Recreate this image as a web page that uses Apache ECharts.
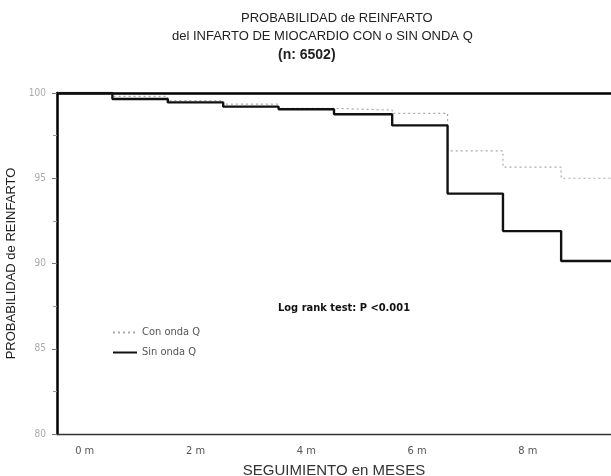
<!DOCTYPE html>
<html>
<head>
<meta charset="utf-8">
<script src="https://cdn.jsdelivr.net/npm/echarts@6/dist/echarts.min.js"></script>
<style>
  html, body { margin: 0; padding: 0; background: #fff; }
  #chart { width: 611px; height: 476px; }
</style>
</head>
<body>
<div id="chart"></div>
<script>
// meses de seguimiento en que cambia cada curva (primer punto = borde izquierdo del eje)
var meses = [-0.5, 0.5, 1.5, 2.5, 3.5, 4.5, 5.55, 6.55, 7.55, 8.6, 9.5];
var conOndaQ = [100, 99.8, 99.55, 99.35, 99.1, 99.0, 98.8, 96.6, 95.65, 95.0, 95.0];
var sinOndaQ = [100, 99.65, 99.45, 99.2, 99.05, 98.75, 98.1, 94.1, 91.9, 90.15, 90.15];
var etiquetasMes = [0, 2, 4, 6, 8];
var etiquetasY = [80, 85, 90, 95, 100];

var narrow = "'Liberation Sans Narrow', 'DejaVu Sans Condensed', sans-serif";
var sans = "'Liberation Sans', Arial, sans-serif";

function pares(xs, ys) {
  return xs.map(function (x, i) { return [x, ys[i]]; });
}

var chart = echarts.init(document.getElementById('chart'));
var option = {
  animation: false,
  title: [
    {
      text: 'PROBABILIDAD de REINFARTO',
      left: 236, top: 7,
      textStyle: { fontFamily: sans, fontSize: 13, fontWeight: 'normal', color: '#222' }
    },
    {
      text: 'del INFARTO DE MIOCARDIO CON o SIN ONDA Q',
      left: 167, top: 25,
      textStyle: { fontFamily: sans, fontSize: 13, fontWeight: 'normal', color: '#222' }
    },
    {
      text: '(n: 6502)',
      left: 273, top: 43,
      textStyle: { fontFamily: sans, fontSize: 14, fontWeight: 'bold', color: '#222' }
    },
    {
      text: 'Log rank test: P <0.001',
      left: 273, top: 298,
      textStyle: { fontFamily: narrow, fontSize: 11, fontWeight: 'bold', color: '#111' }
    }
  ],
  legend: {
    orient: 'vertical',
    left: 107, top: 322,
    itemWidth: 24, itemHeight: 8, itemGap: 9,
    itemStyle: { opacity: 0 },
    textStyle: { fontFamily: narrow, fontSize: 11, color: '#555' },
    data: ['Con onda Q', 'Sin onda Q']
  },
  grid: { left: 57, top: 93, right: 0, bottom: 42, outerBoundsMode: 'none' },
  xAxis: [
    {
      type: 'value',
      min: -0.5, max: 9.5,
      position: 'bottom',
      name: 'SEGUIMIENTO en MESES',
      nameLocation: 'middle',
      nameGap: 29,
      nameTextStyle: { fontFamily: sans, fontSize: 15, color: '#333' },
      axisLine: { onZero: false, lineStyle: { color: '#333', width: 1.3 } },
      axisTick: { show: false },
      splitLine: { show: false },
      axisLabel: {
        customValues: etiquetasMes,
        formatter: function (v) { return v + ' m'; },
        fontFamily: narrow, fontSize: 11, color: '#555', margin: 12
      }
    },
    {
      type: 'value',
      min: -0.5, max: 9.5,
      position: 'top',
      axisLine: { show: true, onZero: false, lineStyle: { color: '#000', width: 2.5 } },
      axisTick: { show: false },
      axisLabel: { show: false },
      splitLine: { show: false }
    }
  ],
  yAxis: {
    type: 'value',
    min: 80, max: 100, interval: 5,
    name: 'PROBABILIDAD de REINFARTO',
    nameLocation: 'middle',
    nameGap: 33,
    nameTextStyle: { fontFamily: sans, fontSize: 13, color: '#222' },
    axisLine: { show: true, onZero: false, lineStyle: { color: '#000', width: 2.5 } },
    axisTick: { show: true, length: 5, lineStyle: { color: '#777' } },
    minorTick: { show: true, splitNumber: 2, length: 4, lineStyle: { color: '#999' } },
    splitLine: { show: false },
    axisLabel: {
      customValues: etiquetasY,
      fontFamily: narrow, fontSize: 10, color: '#aaa', margin: 11
    }
  },
  series: [
    {
      name: 'Con onda Q',
      type: 'line',
      step: 'end',
      symbol: 'none',
      z: 2,
      lineStyle: { color: '#aaa', width: 1.2, type: [2, 3] },
      itemStyle: { color: '#aaa' },
      data: pares(meses, conOndaQ)
    },
    {
      name: 'Sin onda Q',
      type: 'line',
      step: 'end',
      symbol: 'none',
      z: 3,
      lineStyle: { color: '#111', width: 2.4 },
      itemStyle: { color: '#111' },
      data: pares(meses, sinOndaQ)
    }
  ]
};
chart.setOption(option);
</script>
</body>
</html>
